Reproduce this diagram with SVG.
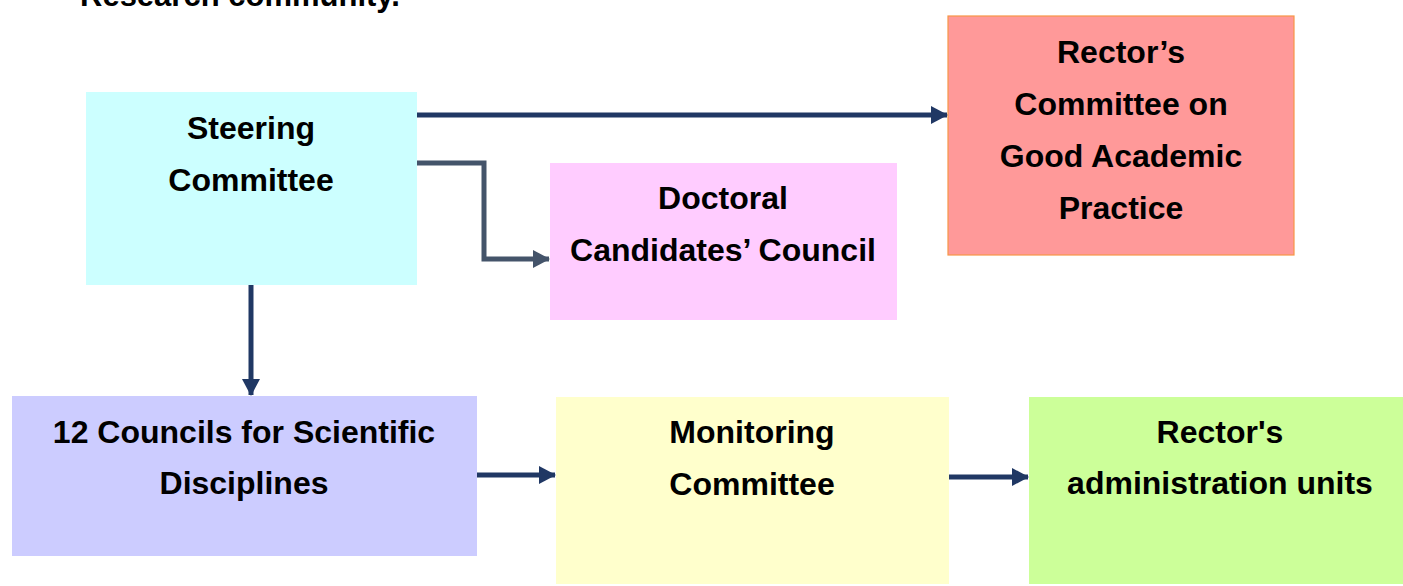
<svg xmlns="http://www.w3.org/2000/svg" width="1403" height="586" viewBox="0 0 1403 586">
<defs>
<style>
text{font-family:"Liberation Sans",Arial,sans-serif;font-weight:bold;font-size:32px;fill:#000;text-anchor:middle}
.c1{stroke:#203864;stroke-width:5;fill:none}
.c2{stroke:#44546A;stroke-width:5;fill:none}
</style>
<marker id="a1" markerUnits="userSpaceOnUse" markerWidth="18" markerHeight="20" refX="16" refY="10" orient="auto"><path d="M0,1 L17,10 L0,19 Z" fill="#203864"/></marker>
<marker id="a2" markerUnits="userSpaceOnUse" markerWidth="18" markerHeight="20" refX="16" refY="10" orient="auto"><path d="M0,1 L17,10 L0,19 Z" fill="#44546A"/></marker>
</defs>
<rect width="1403" height="586" fill="#fff"/>
<text x="80" y="6" style="text-anchor:start;font-size:31px">Research community.</text>
<g id="steering"><rect x="86" y="92" width="331" height="193" fill="#CCFFFF"/><text x="251" y="139">Steering</text><text x="251" y="191">Committee</text></g>
<g id="doctoral"><rect x="550" y="163" width="347" height="157" fill="#FFCCFF"/><text x="723" y="209">Doctoral</text><text x="723" y="261">Candidates’ Council</text></g>
<g id="rector-committee"><rect x="948" y="16" width="346" height="239" fill="#FF9999" stroke="#F79646" stroke-width="1.2"/><text x="1121" y="63">Rector’s</text><text x="1121" y="115">Committee on</text><text x="1121" y="167">Good Academic</text><text x="1121" y="219">Practice</text></g>
<g id="councils"><rect x="12" y="396" width="465" height="160" fill="#CCCCFF"/><text x="244" y="443">12 Councils for Scientific</text><text x="244" y="494">Disciplines</text></g>
<g id="monitoring"><rect x="556" y="397" width="393" height="187" fill="#FFFFCC"/><text x="752" y="443">Monitoring</text><text x="752" y="495">Committee</text></g>
<g id="admin"><rect x="1029" y="397" width="374" height="187" fill="#CCFF99"/><text x="1220" y="443">Rector's</text><text x="1220" y="494">administration units</text></g>
<g id="connectors">
<path class="c1" d="M417,115 H947" marker-end="url(#a1)"/>
<path class="c2" d="M417,163 H484 V259 H549" marker-end="url(#a2)"/>
<path class="c1" d="M251,285 V395" marker-end="url(#a1)"/>
<path class="c1" d="M477,475 H555" marker-end="url(#a1)"/>
<path class="c1" d="M949,477 H1028" marker-end="url(#a1)"/>
</g>
</svg>
